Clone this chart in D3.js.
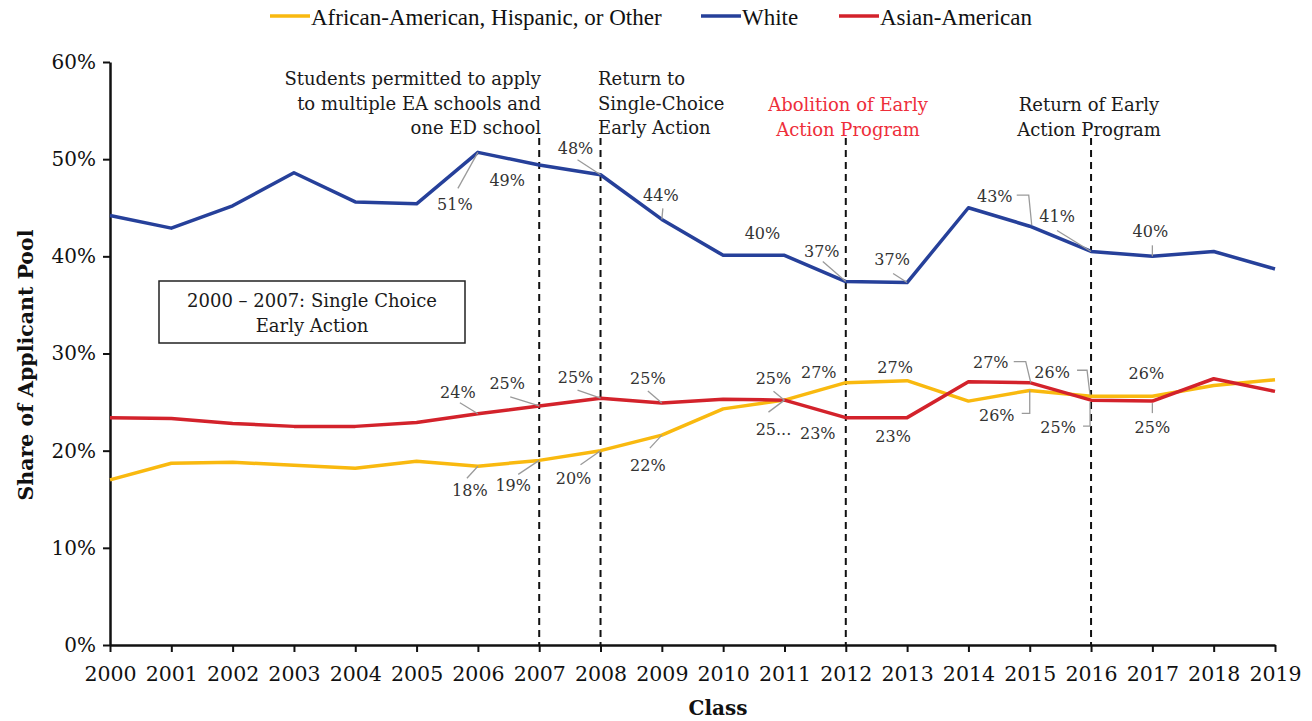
<!DOCTYPE html>
<html>
<head>
<meta charset="utf-8">
<script src="https://cdn.jsdelivr.net/npm/d3@7"></script>
<style>
  body { margin: 0; background: #fff; }
  svg text { font-family: "DejaVu Serif", Georgia, serif; }
</style>
</head>
<body>
<script>
// class years on the x axis
const years = [2000, 2001, 2002, 2003, 2004, 2005, 2006, 2007, 2008, 2009,
               2010, 2011, 2012, 2013, 2014, 2015, 2016, 2017, 2018, 2019];

// share of applicant pool, percent
const whiteShare = [44.2, 42.9, 45.2, 48.6, 45.6, 45.4, 50.7, 49.4, 48.4, 43.8,
                    40.1, 40.1, 37.4, 37.3, 45.0, 43.1, 40.5, 40.0, 40.5, 38.7];
const asianShare = [23.4, 23.3, 22.8, 22.5, 22.5, 22.9, 23.8, 24.6, 25.4, 24.9,
                    25.3, 25.2, 23.4, 23.4, 27.1, 27.0, 25.2, 25.1, 27.4, 26.1];
const otherShare = [17.0, 18.7, 18.8, 18.5, 18.2, 18.9, 18.4, 19.0, 20.0, 21.6,
                    24.3, 25.2, 27.0, 27.2, 25.1, 26.2, 25.6, 25.6, 26.7, 27.3];

const yTicks = [0, 10, 20, 30, 40, 50, 60];
const seriesNames = ["African-American, Hispanic, or Other", "White", "Asian-American"];

// policy change years (dashed lines)
const policyYears = [2007, 2008, 2012, 2016];

(function() {
  const width = 1312, height = 721;
  const colors = { other: "#f9b90f", white: "#26409a", asian: "#d3222b" };

  const svg = d3.select("body").append("svg")
    .attr("width", width)
    .attr("height", height);

  const x = d3.scaleLinear().domain([2000, 2019]).range([110, 1275]);
  const y = d3.scaleLinear().domain([0, 60]).range([645, 62]);

  // axes
  const yAxis = d3.axisLeft(y).tickValues(yTicks).tickFormat(d => d + "%").tickSize(7).tickSizeOuter(0);
  const gy = svg.append("g").attr("transform", "translate(110,0)").call(yAxis);
  gy.selectAll("text").style("font-size", "20px").attr("fill", "#111").attr("x", -14);

  const xAxis = d3.axisBottom(x).tickValues(years).tickFormat(d3.format("d")).tickSize(7).tickSizeOuter(0);
  const gx = svg.append("g").attr("transform", "translate(0,645)").call(xAxis);
  gx.selectAll("text").style("font-size", "20.5px").attr("fill", "#111").attr("y", 21);

  svg.selectAll(".domain").attr("stroke", "#111").attr("stroke-width", 2.5);
  svg.selectAll(".tick line").attr("stroke", "#111").attr("stroke-width", 2);

  // axis titles
  svg.append("text")
    .attr("transform", "translate(33, 365)rotate(-90)")
    .attr("text-anchor", "middle")
    .style("font-size", "20.5px")
    .style("font-weight", "bold")
    .attr("fill", "#111")
    .text("Share of Applicant Pool");

  svg.append("text")
    .attr("x", 718).attr("y", 715)
    .attr("text-anchor", "middle")
    .style("font-size", "20px")
    .style("font-weight", "bold")
    .attr("fill", "#111")
    .text("Class");

  // dashed policy lines
  svg.selectAll(".policy")
    .data(policyYears)
    .enter()
    .append("line")
      .attr("x1", d => x(d)).attr("x2", d => x(d))
      .attr("y1", 138).attr("y2", 645)
      .attr("stroke", "#111")
      .attr("stroke-width", 2)
      .attr("stroke-dasharray", "7,5");

  // annotations
  function block(lines, xPos, yPos, anchor, color) {
    const t = svg.append("text")
      .attr("text-anchor", anchor)
      .style("font-size", "18px")
      .attr("fill", color || "#1a1a1a");
    lines.forEach((l, i) => {
      t.append("tspan").attr("x", xPos).attr("y", yPos + i * 24.5).text(l);
    });
  }
  block(["Students permitted to apply", "to multiple EA schools and", "one ED school"], 541, 85, "end");
  block(["Return to", "Single-Choice", "Early Action"], 598, 85, "start");
  block(["Abolition of Early", "Action Program"], 848, 111, "middle", "#ee2e3a");
  block(["Return of Early", "Action Program"], 1089, 111, "middle");

  svg.append("rect")
    .attr("x", 159).attr("y", 281)
    .attr("width", 306).attr("height", 62)
    .attr("fill", "#fff")
    .attr("stroke", "#222")
    .attr("stroke-width", 1.5);
  block(["2000 \u2013 2007: Single Choice", "Early Action"], 312, 307, "middle");

  // lines
  const line = d3.line()
    .x((d, i) => x(years[i]))
    .y(d => y(d));

  const series = [
    { key: "other", values: otherShare },
    { key: "white", values: whiteShare },
    { key: "asian", values: asianShare }
  ];

  series.forEach(s => {
    svg.append("path")
      .datum(s.values)
      .attr("fill", "none")
      .attr("stroke", colors[s.key])
      .attr("stroke-width", 3.5)
      .attr("stroke-linejoin", "round")
      .attr("d", line);
  });

  // data labels: offsets from the point, leader points also offsets
  const labels = [
    { s: "white", i: 6, t: "51%", dx: -23, dy: 52, lead: [[-20, 36], [0, 0]] },
    { s: "white", i: 7, t: "49%", dx: -32, dy: 16 },
    { s: "white", i: 8, t: "48%", dx: -25, dy: -26, lead: [[-23, -15], [0, 0]] },
    { s: "white", i: 9, t: "44%", dx: -1, dy: -24, lead: [[1, -11], [0, 0]] },
    { s: "white", i: 11, t: "40%", dx: -22, dy: -22 },
    { s: "white", i: 12, t: "37%", dx: -24, dy: -30, lead: [[-23, -20], [0, 0]] },
    { s: "white", i: 13, t: "37%", dx: -15, dy: -23, lead: [[-14, -9], [0, 0]] },
    { s: "white", i: 15, t: "43%", dx: -35, dy: -30, lead: [[-13, -31], [-1, -31], [2, -1]] },
    { s: "white", i: 16, t: "41%", dx: -34, dy: -35, lead: [[-34, -21], [0, 0]] },
    { s: "white", i: 17, t: "40%", dx: -2, dy: -25, lead: [[0, -11], [0, 0]] },

    { s: "asian", i: 6, t: "24%", dx: -20, dy: -21, lead: [[-18, -11], [0, 0]] },
    { s: "asian", i: 7, t: "25%", dx: -32, dy: -22, lead: [[-29, -9], [0, 0]] },
    { s: "asian", i: 8, t: "25%", dx: -25, dy: -21, lead: [[-23, -8], [0, 0]] },
    { s: "asian", i: 9, t: "25%", dx: -14, dy: -25, lead: [[-14, -12], [0, 0]] },
    { s: "asian", i: 11, t: "25%", dx: -11, dy: -22, lead: [[-11, -9], [0, 0]] },
    { s: "asian", i: 12, t: "23%", dx: -28, dy: 16 },
    { s: "asian", i: 13, t: "23%", dx: -14, dy: 19 },
    { s: "asian", i: 15, t: "27%", dx: -39, dy: -20, lead: [[-16, -21], [-4, -21], [1, 0]] },
    { s: "asian", i: 16, t: "25%", dx: -33, dy: 27, lead: [[-8, 26], [-1, 26], [-1, 2]] },
    { s: "asian", i: 17, t: "25%", dx: 0, dy: 26, lead: [[0, 12], [0, 2]] },

    { s: "other", i: 6, t: "18%", dx: -8, dy: 24, lead: [[-11, 12], [0, 0]] },
    { s: "other", i: 7, t: "19%", dx: -26, dy: 25, lead: [[-21, 14], [0, 0]] },
    { s: "other", i: 8, t: "20%", dx: -27, dy: 28, lead: [[-20, 14], [0, 0]] },
    { s: "other", i: 9, t: "22%", dx: -14, dy: 30, lead: [[-12, 13], [0, 0]] },
    { s: "other", i: 11, t: "25...", dx: -11, dy: 29, lead: [[-16, 12], [0, 0]] },
    { s: "other", i: 12, t: "27%", dx: -27, dy: -10 },
    { s: "other", i: 13, t: "27%", dx: -12, dy: -13 },
    { s: "other", i: 15, t: "26%", dx: -33, dy: 25, lead: [[-8, 23], [0, 23], [0, 0]] },
    { s: "other", i: 16, t: "26%", dx: -39, dy: -24, lead: [[-14, -26], [-4, -26], [-1, -1]] },
    { s: "other", i: 17, t: "26%", dx: -6, dy: -23 }
  ];

  const valuesByKey = { white: whiteShare, asian: asianShare, other: otherShare };

  labels.forEach(l => {
    const px = x(years[l.i]);
    const py = y(valuesByKey[l.s][l.i]);
    if (l.lead) {
      svg.append("polyline")
        .attr("points", l.lead.map(p => (px + p[0]) + "," + (py + p[1])).join(" "))
        .attr("fill", "none")
        .attr("stroke", "#9a9a9a")
        .attr("stroke-width", 1.3);
    }
    svg.append("text")
      .attr("x", px + l.dx)
      .attr("y", py + l.dy)
      .attr("text-anchor", "middle")
      .attr("dominant-baseline", "central")
      .style("font-size", "16px")
      .attr("fill", "#333")
      .text(l.t);
  });

  // legend
  const legendItems = [
    { name: seriesNames[0], color: colors.other, x0: 270 },
    { name: seriesNames[1], color: colors.white, x0: 701 },
    { name: seriesNames[2], color: colors.asian, x0: 839 }
  ];
  legendItems.forEach(d => {
    svg.append("line")
      .attr("x1", d.x0).attr("x2", d.x0 + 40)
      .attr("y1", 16).attr("y2", 16)
      .attr("stroke", d.color)
      .attr("stroke-width", 3.5);
    svg.append("text")
      .attr("x", d.x0 + 41)
      .attr("y", 17)
      .attr("dominant-baseline", "central")
      .style("font-family", "'Liberation Serif', serif")
      .style("font-size", "23px")
      .attr("fill", "#111")
      .text(d.name);
  });
})();
</script>
</body>
</html>
